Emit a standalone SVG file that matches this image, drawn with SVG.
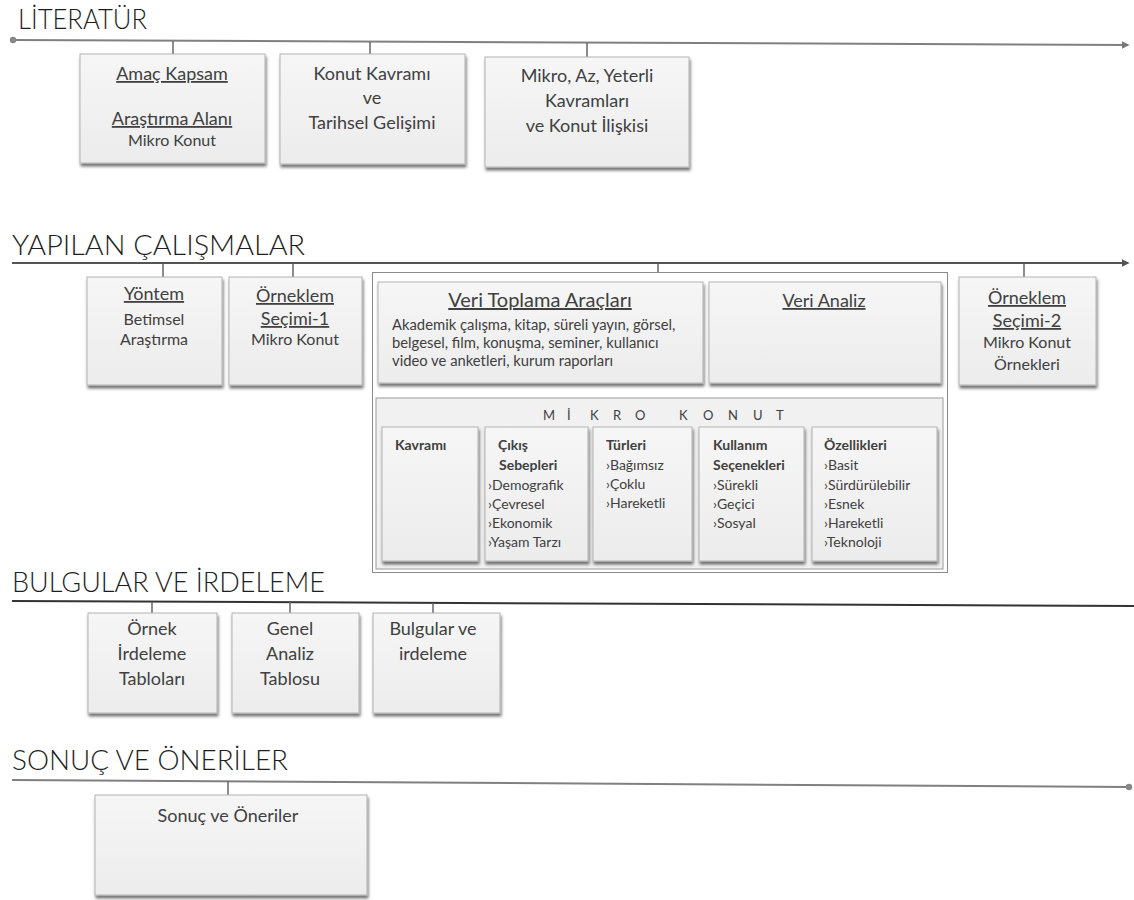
<svg xmlns="http://www.w3.org/2000/svg" width="1134" height="900" viewBox="0 0 1134 900">
<defs>
<linearGradient id="g" x1="0" y1="0" x2="0" y2="1"><stop offset="0" stop-color="#f6f6f6"/><stop offset="1" stop-color="#ececec"/></linearGradient>
<filter id="sh" x="-10%" y="-10%" width="125%" height="130%"><feDropShadow dx="1" dy="3" stdDeviation="1.4" flood-color="#000" flood-opacity="0.55"/></filter>
<marker id="arr" viewBox="0 0 10 10" refX="8" refY="5" markerWidth="4" markerHeight="4" orient="auto" markerUnits="strokeWidth"><path d="M0,0 L10,5 L0,10 z" fill="#777"/></marker>
<marker id="arr2" viewBox="0 0 10 10" refX="8" refY="5" markerWidth="4" markerHeight="4" orient="auto" markerUnits="strokeWidth"><path d="M0,0 L10,5 L0,10 z" fill="#555"/></marker>
</defs>
<style>
.box{fill:url(#g);stroke:#b3b3b3;stroke-width:1;filter:url(#sh)}
.t{font-family:Lato,"Liberation Sans",sans-serif;fill:#404040;text-anchor:middle;font-size:18px}
.m{font-size:16px}
.h{font-family:Lato,"Liberation Sans",sans-serif;font-size:27px;fill:#1e1e1e;font-weight:300}
.u{text-decoration:underline}
.s{font-family:Lato,"Liberation Sans",sans-serif;fill:#404040;font-size:14px}
.v{font-size:14.8px}
.b{font-weight:bold}
.tk{stroke:#666;stroke-width:1.5}
</style>

<g id="titles">
<text class="h" x="18" y="29" textLength="129" lengthAdjust="spacingAndGlyphs">LİTERATÜR</text>
<text class="h" x="12" y="255" textLength="293" lengthAdjust="spacingAndGlyphs">YAPILAN ÇALIŞMALAR</text>
<text class="h" x="12" y="592" textLength="313" lengthAdjust="spacingAndGlyphs">BULGULAR VE İRDELEME</text>
<text class="h" x="12" y="770" textLength="276" lengthAdjust="spacingAndGlyphs">SONUÇ VE ÖNERİLER</text>
</g>

<g id="connectors">
<path d="M13,40 L1128,45" stroke="#808080" stroke-width="2" fill="none" marker-end="url(#arr)"/>
<circle cx="13" cy="40" r="3.2" fill="#888"/>
<line class="tk" x1="173" y1="41" x2="173" y2="54"/>
<line class="tk" x1="370" y1="42" x2="370" y2="54"/>
<line class="tk" x1="587" y1="43" x2="587" y2="57"/>

<path d="M12,263 L1128,263" stroke="#555" stroke-width="2" fill="none" marker-end="url(#arr2)"/>
<line class="tk" x1="163" y1="264" x2="163" y2="277"/>
<line class="tk" x1="293" y1="264" x2="293" y2="277"/>
<line class="tk" x1="658" y1="264" x2="658" y2="273"/>
<line class="tk" x1="1024" y1="264" x2="1024" y2="277"/>

<path d="M12,601 L1134,606" stroke="#333" stroke-width="2" fill="none"/>
<line class="tk" x1="152" y1="602" x2="152" y2="613"/>
<line class="tk" x1="290" y1="602" x2="290" y2="613"/>
<line class="tk" x1="433" y1="603" x2="433" y2="613"/>

<path d="M12,780 L1128,787" stroke="#808080" stroke-width="2" fill="none"/>
<circle cx="1129" cy="787" r="3.2" fill="#888"/>
<line class="tk" x1="228" y1="781" x2="228" y2="795"/>
</g>

<g id="amac">
<rect class="box" x="80" y="54" width="185" height="109"/>
<text class="t u" x="172" y="80">Amaç Kapsam</text>
<text class="t u" x="172" y="125">Araştırma Alanı</text>
<text class="t m" x="172" y="146">Mikro Konut</text>
</g>
<g id="konut">
<rect class="box" x="280" y="54" width="185" height="110"/>
<text class="t" x="372" y="80">Konut Kavramı</text>
<text class="t" x="372" y="104">ve</text>
<text class="t" x="372" y="129">Tarihsel Gelişimi</text>
</g>
<g id="mikroaz">
<rect class="box" x="485" y="57" width="204" height="110"/>
<text class="t" x="587" y="82">Mikro, Az, Yeterli</text>
<text class="t" x="587" y="107">Kavramları</text>
<text class="t" x="587" y="132">ve Konut İlişkisi</text>
</g>

<g id="yontem">
<rect class="box" x="87" y="277" width="135" height="108"/>
<text class="t u" x="154" y="300">Yöntem</text>
<text class="t m" x="154" y="325">Betimsel</text>
<text class="t m" x="154" y="345">Araştırma</text>
</g>
<g id="orneklem1">
<rect class="box" x="229" y="277" width="133" height="108"/>
<text class="t u" x="295" y="302">Örneklem</text>
<text class="t u" x="295" y="325">Seçimi-1</text>
<text class="t m" x="295" y="345">Mikro Konut</text>
</g>

<g id="veri">
<rect x="372.5" y="272.5" width="575" height="300" fill="#fff" stroke="#8a8a8a" stroke-width="1"/>
<g id="veritoplama">
<rect class="box" x="378" y="282" width="325" height="101"/>
<text class="t u" x="540" y="307" style="font-size:20px">Veri Toplama Araçları</text>
<text class="s v" x="392" y="330">Akademik çalışma, kitap, süreli yayın, görsel,</text>
<text class="s v" x="392" y="348">belgesel, film, konuşma, seminer, kullanıcı</text>
<text class="s v" x="392" y="366">video ve anketleri, kurum raporları</text>
</g>
<g id="verianaliz">
<rect class="box" x="709" y="282" width="232" height="101"/>
<text class="t u" x="824" y="307">Veri Analiz</text>
</g>
<g id="mikrokonut">
<rect x="376" y="398" width="567" height="171" fill="#f1f1f1" stroke="#9a9a9a" stroke-width="1"/>
<text class="s" y="420" x="543 567 590 613 635 660 679 703 728 753 776" style="font-size:13px">MİKRO KONUT</text>
<g id="kavrami">
<rect class="box" x="382" y="427" width="96" height="134"/>
<text class="s b" x="395" y="450">Kavramı</text>
</g>
<g id="cikis">
<rect class="box" x="485" y="427" width="103" height="134"/>
<text class="s b" x="498" y="450">Çıkış</text>
<text class="s b" x="499" y="470">Sebepleri</text>
<text class="s" x="488" y="490">›Demografik</text>
<text class="s" x="488" y="509">›Çevresel</text>
<text class="s" x="488" y="528">›Ekonomik</text>
<text class="s" x="488" y="547">›Yaşam Tarzı</text>
</g>
<g id="turleri">
<rect class="box" x="593" y="427" width="99" height="134"/>
<text class="s b" x="606" y="450">Türleri</text>
<text class="s" x="606" y="470">›Bağımsız</text>
<text class="s" x="606" y="489">›Çoklu</text>
<text class="s" x="606" y="508">›Hareketli</text>
</g>
<g id="kullanim">
<rect class="box" x="699" y="427" width="105" height="134"/>
<text class="s b" x="713" y="450">Kullanım</text>
<text class="s b" x="713" y="470">Seçenekleri</text>
<text class="s" x="713" y="490">›Sürekli</text>
<text class="s" x="713" y="509">›Geçici</text>
<text class="s" x="713" y="528">›Sosyal</text>
</g>
<g id="ozellikleri">
<rect class="box" x="812" y="427" width="125" height="134"/>
<text class="s b" x="824" y="450">Özellikleri</text>
<text class="s" x="824" y="470">›Basit</text>
<text class="s" x="824" y="490">›Sürdürülebilir</text>
<text class="s" x="824" y="509">›Esnek</text>
<text class="s" x="824" y="528">›Hareketli</text>
<text class="s" x="824" y="547">›Teknoloji</text>
</g>
</g>
</g>

<g id="orneklem2">
<rect class="box" x="959" y="277" width="137" height="108"/>
<text class="t u" x="1027" y="304">Örneklem</text>
<text class="t u" x="1027" y="327">Seçimi-2</text>
<text class="t m" x="1027" y="348">Mikro Konut</text>
<text class="t m" x="1027" y="370">Örnekleri</text>
</g>

<g id="ornekirdeleme">
<rect class="box" x="88" y="613" width="129" height="100"/>
<text class="t" x="152" y="635">Örnek</text>
<text class="t" x="152" y="660">İrdeleme</text>
<text class="t" x="152" y="685">Tabloları</text>
</g>
<g id="genelanaliz">
<rect class="box" x="232" y="613" width="127" height="100"/>
<text class="t" x="290" y="635">Genel</text>
<text class="t" x="290" y="660">Analiz</text>
<text class="t" x="290" y="685">Tablosu</text>
</g>
<g id="bulgular">
<rect class="box" x="373" y="613" width="127" height="100"/>
<text class="t" x="433" y="635">Bulgular ve</text>
<text class="t" x="433" y="660">irdeleme</text>
</g>

<g id="sonuc">
<rect class="box" x="95" y="795" width="272" height="100"/>
<text class="t" x="228" y="822">Sonuç ve Öneriler</text>
</g>
</svg>
